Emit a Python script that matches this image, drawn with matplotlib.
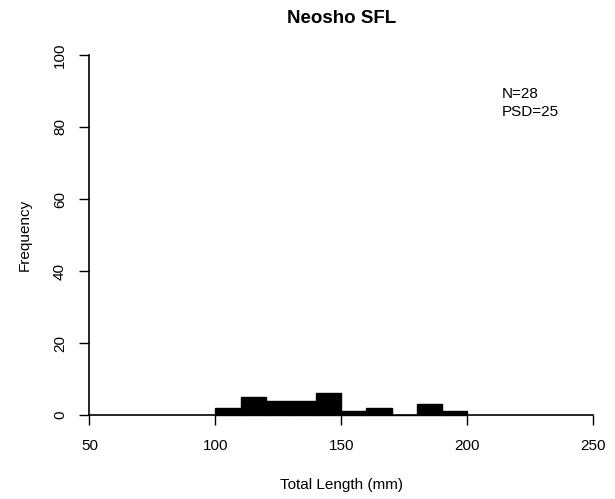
import numpy as np
import matplotlib.pyplot as plt

plt.rcParams['font.family'] = ['Liberation Sans', 'DejaVu Sans']

# length bins (mm) and counts
bin_edges = [100, 110, 120, 130, 140, 150, 160, 170, 180, 190, 200]
counts = [2, 5, 4, 4, 6, 1, 2, 0, 3, 1]
x_ticks = [50, 100, 150, 200, 250]
y_ticks = [0, 20, 40, 60, 80, 100]
title = "Neosho SFL"
stats_text = "N=28\nPSD=25"


def main():
    fig = plt.figure(figsize=(6.15, 4.99), dpi=100)
    ax = fig.add_axes([0.1455, 0.1683, 0.8187, 0.7215])

    left = np.array(bin_edges[:-1])
    widths = np.diff(bin_edges)
    ax.bar(left, counts, width=widths, align='edge', color='black',
           edgecolor='black', linewidth=1, clip_on=False)

    ax.set_xlim(50, 250)
    ax.set_ylim(0, 100)
    for s in ['top', 'right']:
        ax.spines[s].set_visible(False)
    for s in ['left', 'bottom']:
        ax.spines[s].set_linewidth(1.2)

    ax.set_xticks(x_ticks)
    ax.set_yticks(y_ticks)
    ax.tick_params(axis='both', direction='out', length=7.2, width=1.0,
                   labelsize=11)
    ax.tick_params(axis='x', pad=10)
    ax.tick_params(axis='y', pad=9)
    for lbl in ax.get_yticklabels():
        lbl.set_rotation(90)
        lbl.set_va('center')

    ax.set_xlabel("Total Length (mm)", fontsize=11, labelpad=18)
    ax.set_ylabel("Frequency", fontsize=11, labelpad=15)
    ax.set_title(title, fontsize=13.5, fontweight='bold', pad=23)

    ax.text(213.9, 91.0, stats_text, fontsize=11, va='top', ha='left',
            linespacing=1.35)

    fig.savefig("out.png", dpi=100)


if __name__ == "__main__":
    main()
